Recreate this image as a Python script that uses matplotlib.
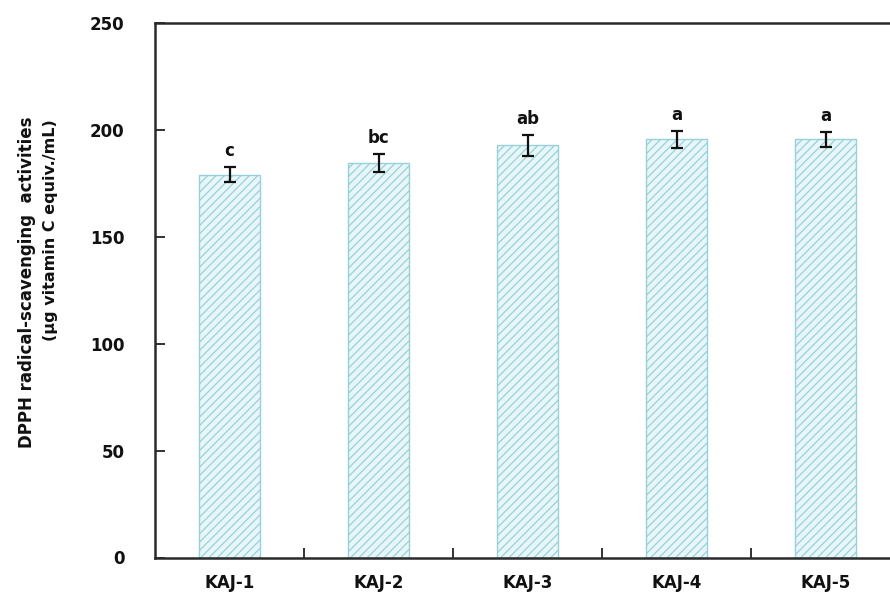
import matplotlib
matplotlib.use("Agg")
import matplotlib.pyplot as plt
import numpy as np

plt.rcParams['hatch.linewidth'] = 0.9

samples = ["KAJ-1", "KAJ-2", "KAJ-3", "KAJ-4", "KAJ-5"]
dpph = [179.0, 184.5, 192.8, 195.6, 195.6]
dpph_sd = [3.6, 4.4, 4.8, 3.9, 3.6]
groups = ["c", "bc", "ab", "a", "a"]
y_ticks = [0, 50, 100, 150, 200, 250]

W, H = 890, 602
fig = plt.figure(figsize=(W / 100, H / 100), dpi=100)
ax = fig.add_axes([155 / W, 44.5 / H, 745 / W, 534.5 / H])

x = np.arange(len(samples))
ax.bar(x, dpph, width=0.41, facecolor="#e8f6f8", edgecolor="#98d1da",
       hatch="////", linewidth=1.0, zorder=2)
ax.errorbar(x, dpph, yerr=dpph_sd, fmt="none", ecolor="#111111",
            elinewidth=1.6, capsize=4, capthick=1.6, zorder=3)

font = "DejaVu Sans"
for xi, v, e, g in zip(x, dpph, dpph_sd, groups):
    ax.annotate(g, (xi, v + e), xytext=(0, 5), textcoords="offset points",
                ha="center", va="bottom", fontsize=12, fontweight="bold",
                family=font, color="#111111")

ax.set_xlim(-0.5, 4.5)
ax.set_ylim(0, 250)
ax.set_yticks(y_ticks)
ax.set_yticklabels([str(t) for t in y_ticks], fontsize=12, fontweight="bold",
                   family=font, color="#111111")
ax.set_xticks(x)
ax.set_xticklabels(samples, fontsize=12, fontweight="bold", family=font,
                   color="#111111")
ax.set_xticks(x[:-1] + 0.5, minor=True)

ax.tick_params(axis="y", direction="in", length=7, width=1.3, pad=22,
               color="#222222")
ax.tick_params(axis="x", which="major", length=0, pad=12)
ax.tick_params(axis="x", which="minor", direction="in", length=7, width=1.3,
               color="#222222")

for s in ax.spines.values():
    s.set_linewidth(1.8)
    s.set_color("#2a2a2a")
ax.spines["right"].set_visible(False)

fig.text(27 / W, 1 - 282 / H, "DPPH radical-scavenging  activities",
         rotation=90, ha="center", va="center", fontsize=12,
         fontweight="bold", family=font, color="#111111")
fig.text(51 / W, 1 - 230 / H, "(\u03bcg vitamin C equiv./mL)",
         rotation=90, ha="center", va="center", fontsize=11.5,
         fontweight="bold", family=font, color="#111111")

fig.savefig("out.png", dpi=100)
